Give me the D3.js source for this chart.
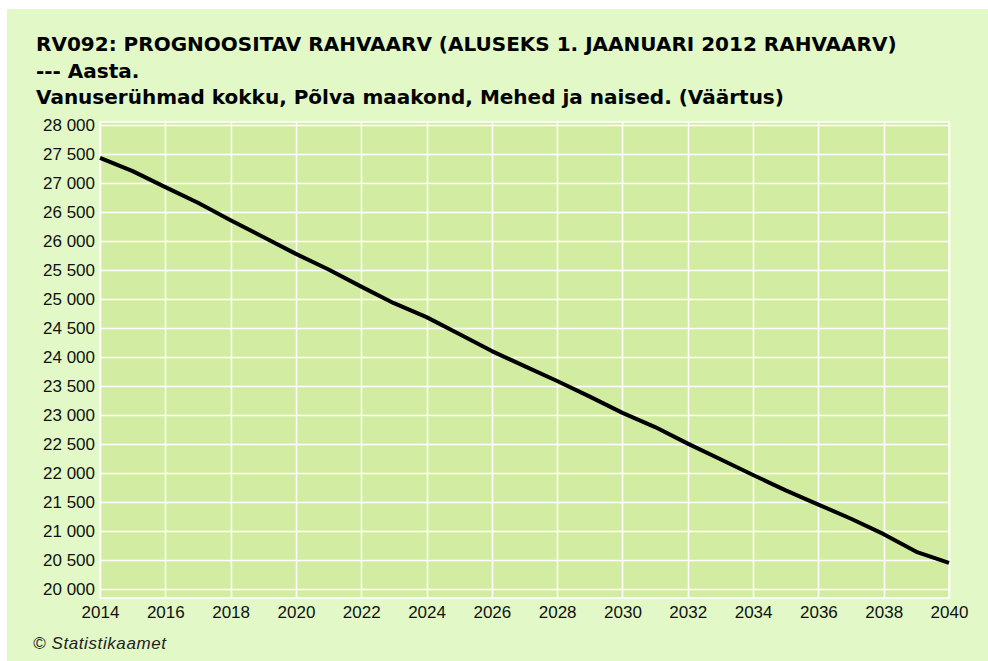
<!DOCTYPE html>
<html>
<head>
<meta charset="utf-8">
<script src="https://cdn.jsdelivr.net/npm/d3@7.9.0/dist/d3.min.js"></script>
<style>
  body { margin: 0; background: #fff; }
  svg { display: block; font-family: "Liberation Sans", Arial, sans-serif; }
</style>
</head>
<body>
<svg id="chart" width="988" height="661"></svg>
<script>
// RV092 prognoositav rahvaarv, Põlva maakond
const titleLines = [
    'RV092: PROGNOOSITAV RAHVAARV (ALUSEKS 1. JAANUARI 2012 RAHVAARV)',
    '--- Aasta.',
    'Vanuserühmad kokku, Põlva maakond, Mehed ja naised. (Väärtus)'
];
const years = [2014, 2015, 2016, 2017, 2018, 2019, 2020, 2021, 2022, 2023, 2024, 2025, 2026,
    2027, 2028, 2029, 2030, 2031, 2032, 2033, 2034, 2035, 2036, 2037, 2038, 2039, 2040];
const population = [27435, 27205, 26930, 26660, 26360, 26070, 25780, 25510, 25215, 24930, 24690, 24400, 24105,
    23845, 23590, 23320, 23040, 22795, 22510, 22240, 21970, 21705, 21460, 21215, 20950, 20645, 20455];
const xTicks = d3.range(2014, 2041, 2);
const yTicks = d3.range(20000, 28001, 500);
const source = '© Statistikaamet';

const svg = d3.select('#chart');
const plot = { left: 100, right: 949, top: 122, bottom: 598 };

// panel background
svg.append('rect')
    .attr('x', 7).attr('y', 9)
    .attr('width', 988 - 7).attr('height', 661 - 9)
    .attr('fill', '#e2f8c6');

svg.append('g')
    .selectAll('text')
    .data(titleLines)
    .join('text')
    .attr('x', 36)
    .attr('y', (d, i) => 51 + i * 26.5)
    .attr('font-family', '"DejaVu Sans", sans-serif')
    .attr('font-size', 20)
    .attr('font-weight', 'bold')
    .attr('fill', '#000')
    .text(d => d);

let x = d3.scaleLinear().domain([2014, 2040]).range([plot.left, plot.right]);
let y = d3.scaleLinear().domain([19850, 28052]).range([plot.bottom, plot.top]);

svg.append('rect')
    .attr('x', plot.left).attr('y', plot.top)
    .attr('width', plot.right - plot.left).attr('height', plot.bottom - plot.top)
    .attr('fill', '#d2eda2')
    .attr('stroke', '#fff')
    .attr('stroke-width', 1.5);

// gridlines
svg.append('g')
    .selectAll('line')
    .data(yTicks)
    .join('line')
    .attr('x1', plot.left).attr('x2', plot.right)
    .attr('y1', d => Math.round(y(d)) + 0.5)
    .attr('y2', d => Math.round(y(d)) + 0.5)
    .attr('stroke', '#fff')
    .attr('stroke-width', 1.5);

svg.append('g')
    .selectAll('line')
    .data(xTicks)
    .join('line')
    .attr('x1', d => Math.round(x(d)) + 0.5)
    .attr('x2', d => Math.round(x(d)) + 0.5)
    .attr('y1', plot.top).attr('y2', plot.bottom)
    .attr('stroke', '#fff')
    .attr('stroke-width', 1.5);

const fmt = d => d3.format(',')(d).replace(',', ' ');

const yAxis = svg.append('g')
    .attr('transform', `translate(${plot.left},0)`)
    .call(d3.axisLeft(y).tickValues(yTicks).tickFormat(fmt).tickSize(0).tickPadding(5));
yAxis.select('.domain').remove();
yAxis.selectAll('text')
    .attr('font-size', 17)
    .attr('font-family', '"Liberation Sans", Arial, sans-serif')
    .attr('fill', '#111');

const xAxis = svg.append('g')
    .attr('transform', `translate(0,${plot.bottom})`)
    .call(d3.axisBottom(x).tickValues(xTicks).tickFormat(d3.format('d')).tickSize(0).tickPadding(8));
xAxis.select('.domain').remove();
xAxis.selectAll('text')
    .attr('font-size', 17)
    .attr('font-family', '"Liberation Sans", Arial, sans-serif')
    .attr('fill', '#111');

// population line
const line = d3.line()
    .x((d, i) => x(years[i]))
    .y(d => y(d));

svg.append('path')
    .datum(population)
    .attr('d', line)
    .attr('fill', 'none')
    .attr('stroke', '#000')
    .attr('stroke-width', 4)
    .attr('stroke-linejoin', 'round');

svg.append('text')
    .attr('x', 33)
    .attr('y', 649)
    .attr('font-size', 17)
    .attr('font-style', 'italic')
    .attr('letter-spacing', 0.6)
    .attr('fill', '#222')
    .text(source);
</script>
</body>
</html>
